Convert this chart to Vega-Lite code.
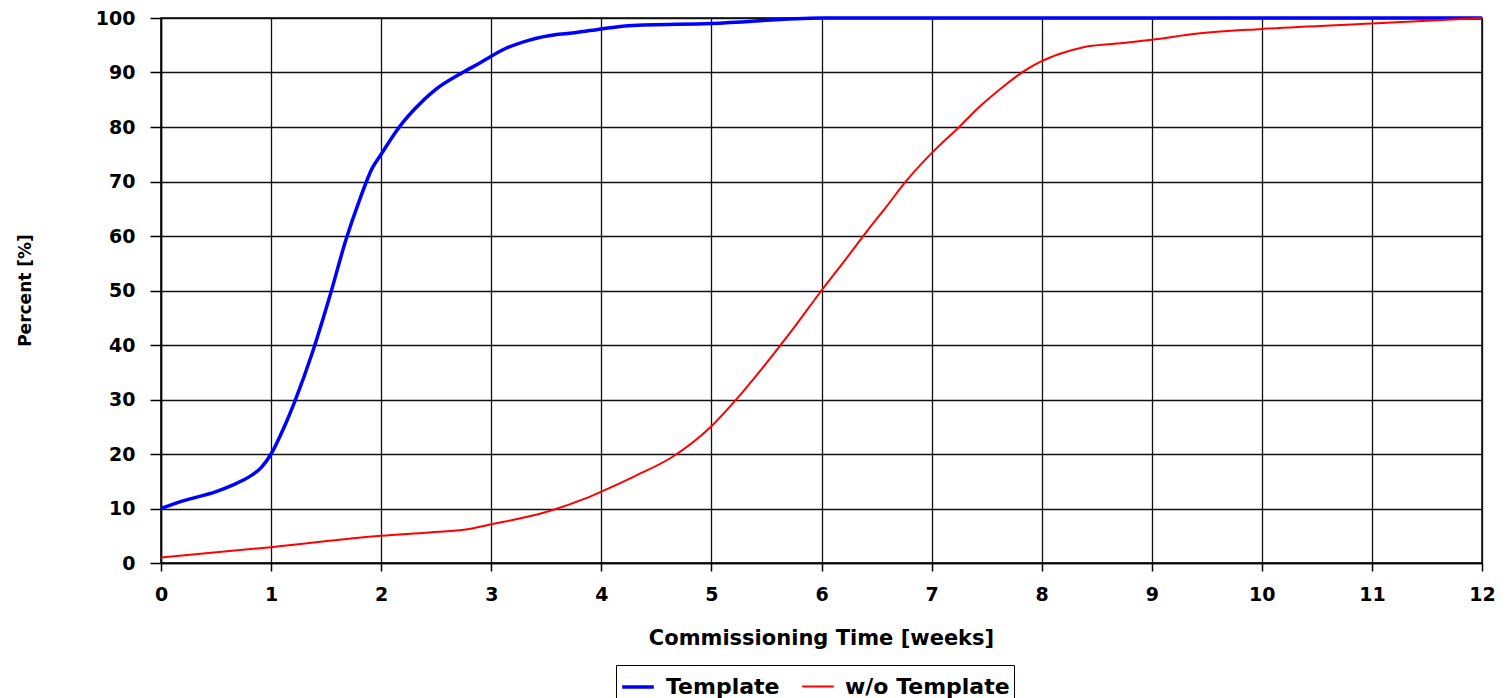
{
  "$schema": "https://vega.github.io/schema/vega-lite/v6.json",
  "width": 1321,
  "height": 545,
  "autosize": {"type": "none"},
  "padding": {"left": 161, "top": 18, "right": 24, "bottom": 135},
  "background": "white",
  "config": {
    "view": {"stroke": "black", "strokeWidth": 1.5},
    "font": "DejaVu Sans",
    "axis": {
      "gridColor": "#111",
      "gridWidth": 1.3,
      "gridOpacity": 1,
      "domainColor": "black",
      "domainWidth": 1.5,
      "tickColor": "black",
      "tickWidth": 1.5,
      "labelFont": "DejaVu Sans",
      "labelFontWeight": "bold",
      "labelFontSize": 19,
      "labelColor": "black",
      "labelFlush": false,
      "labelOverlap": false,
      "titleFont": "DejaVu Sans",
      "titleFontWeight": "bold",
      "titleColor": "black"
    }
  },
  "data": {
    "values": [
      {"week": 0, "percent": 10, "series": "Template"},
      {"week": 0.2, "percent": 11.4, "series": "Template"},
      {"week": 0.5, "percent": 13.1, "series": "Template"},
      {"week": 0.65, "percent": 14.3, "series": "Template"},
      {"week": 0.8, "percent": 15.8, "series": "Template"},
      {"week": 0.91, "percent": 17.5, "series": "Template"},
      {"week": 1.0, "percent": 20.0, "series": "Template"},
      {"week": 1.12, "percent": 25.0, "series": "Template"},
      {"week": 1.22, "percent": 29.9, "series": "Template"},
      {"week": 1.38, "percent": 38.9, "series": "Template"},
      {"week": 1.53, "percent": 48.7, "series": "Template"},
      {"week": 1.68, "percent": 59.3, "series": "Template"},
      {"week": 1.8, "percent": 66.4, "series": "Template"},
      {"week": 1.92, "percent": 72.5, "series": "Template"},
      {"week": 2.0, "percent": 75.0, "series": "Template"},
      {"week": 2.15, "percent": 79.6, "series": "Template"},
      {"week": 2.3, "percent": 83.2, "series": "Template"},
      {"week": 2.49, "percent": 86.8, "series": "Template"},
      {"week": 2.74, "percent": 90.0, "series": "Template"},
      {"week": 2.9, "percent": 91.8, "series": "Template"},
      {"week": 3.0, "percent": 93.0, "series": "Template"},
      {"week": 3.13, "percent": 94.4, "series": "Template"},
      {"week": 3.34, "percent": 95.9, "series": "Template"},
      {"week": 3.61, "percent": 97.0, "series": "Template"},
      {"week": 3.76, "percent": 97.3, "series": "Template"},
      {"week": 4.0, "percent": 98.0, "series": "Template"},
      {"week": 4.25, "percent": 98.6, "series": "Template"},
      {"week": 5.0, "percent": 99.0, "series": "Template"},
      {"week": 6.0, "percent": 100, "series": "Template"},
      {"week": 12, "percent": 100, "series": "Template"},
      {"week": 0, "percent": 1.0, "series": "w/o Template"},
      {"week": 1, "percent": 2.9, "series": "w/o Template"},
      {"week": 2, "percent": 5.0, "series": "w/o Template"},
      {"week": 2.44, "percent": 5.6, "series": "w/o Template"},
      {"week": 2.75, "percent": 6.1, "series": "w/o Template"},
      {"week": 3.0, "percent": 7.1, "series": "w/o Template"},
      {"week": 3.49, "percent": 9.3, "series": "w/o Template"},
      {"week": 3.85, "percent": 11.8, "series": "w/o Template"},
      {"week": 4.0, "percent": 13.1, "series": "w/o Template"},
      {"week": 4.31, "percent": 16.0, "series": "w/o Template"},
      {"week": 4.64, "percent": 19.4, "series": "w/o Template"},
      {"week": 5.0, "percent": 25.1, "series": "w/o Template"},
      {"week": 5.23, "percent": 30.1, "series": "w/o Template"},
      {"week": 5.38, "percent": 33.7, "series": "w/o Template"},
      {"week": 5.74, "percent": 42.9, "series": "w/o Template"},
      {"week": 6.0, "percent": 50.0, "series": "w/o Template"},
      {"week": 6.23, "percent": 56.0, "series": "w/o Template"},
      {"week": 6.41, "percent": 60.8, "series": "w/o Template"},
      {"week": 6.59, "percent": 65.4, "series": "w/o Template"},
      {"week": 6.77, "percent": 70.1, "series": "w/o Template"},
      {"week": 7.0, "percent": 75.2, "series": "w/o Template"},
      {"week": 7.26, "percent": 80.2, "series": "w/o Template"},
      {"week": 7.44, "percent": 83.8, "series": "w/o Template"},
      {"week": 7.65, "percent": 87.4, "series": "w/o Template"},
      {"week": 7.85, "percent": 90.4, "series": "w/o Template"},
      {"week": 8.0, "percent": 92.1, "series": "w/o Template"},
      {"week": 8.16, "percent": 93.4, "series": "w/o Template"},
      {"week": 8.37, "percent": 94.6, "series": "w/o Template"},
      {"week": 8.68, "percent": 95.3, "series": "w/o Template"},
      {"week": 9.0, "percent": 96.0, "series": "w/o Template"},
      {"week": 9.4, "percent": 97.1, "series": "w/o Template"},
      {"week": 10, "percent": 98.0, "series": "w/o Template"},
      {"week": 11, "percent": 99.0, "series": "w/o Template"},
      {"week": 12, "percent": 100, "series": "w/o Template"}
    ]
  },
  "mark": {"type": "line", "interpolate": "monotone"},
  "encoding": {
    "x": {
      "field": "week",
      "type": "quantitative",
      "scale": {"domain": [0, 12], "nice": false, "zero": false},
      "axis": {
        "values": [0, 1, 2, 3, 4, 5, 6, 7, 8, 9, 10, 11, 12],
        "format": "d",
        "tickSize": 8,
        "labelPadding": 14,
        "title": "Commissioning Time [weeks]",
        "titleFontSize": 21,
        "titleX": 660,
        "titleY": 75,
        "titleAlign": "center",
        "titleBaseline": "middle"
      }
    },
    "y": {
      "field": "percent",
      "type": "quantitative",
      "scale": {"domain": [0, 100], "nice": false},
      "axis": {
        "values": [0, 10, 20, 30, 40, 50, 60, 70, 80, 90, 100],
        "format": "d",
        "tickSize": 11,
        "labelPadding": 15,
        "title": "Percent [%]",
        "titleFontSize": 17,
        "titleAngle": -90,
        "titleX": -136,
        "titleY": 272,
        "titleAlign": "center",
        "titleBaseline": "middle"
      }
    },
    "color": {
      "field": "series",
      "type": "nominal",
      "scale": {"domain": ["Template", "w/o Template"], "range": ["#0000FF", "#FF0000"]},
      "legend": {
        "title": null,
        "orient": "none",
        "direction": "horizontal",
        "legendX": 455,
        "legendY": 647,
        "symbolType": "stroke",
        "symbolSize": 1000,
        "symbolStrokeWidth": 2.5,
        "labelFont": "DejaVu Sans",
        "labelFontWeight": "bold",
        "labelFontSize": 22,
        "labelLimit": 500,
        "labelColor": "black",
        "strokeColor": "black",
        "padding": 4,
        "columnPadding": 18,
        "labelOffset": 10
      }
    },
    "strokeWidth": {
      "field": "series",
      "type": "nominal",
      "scale": {"domain": ["Template", "w/o Template"], "range": [3.5, 2]},
      "legend": null
    }
  }
}
